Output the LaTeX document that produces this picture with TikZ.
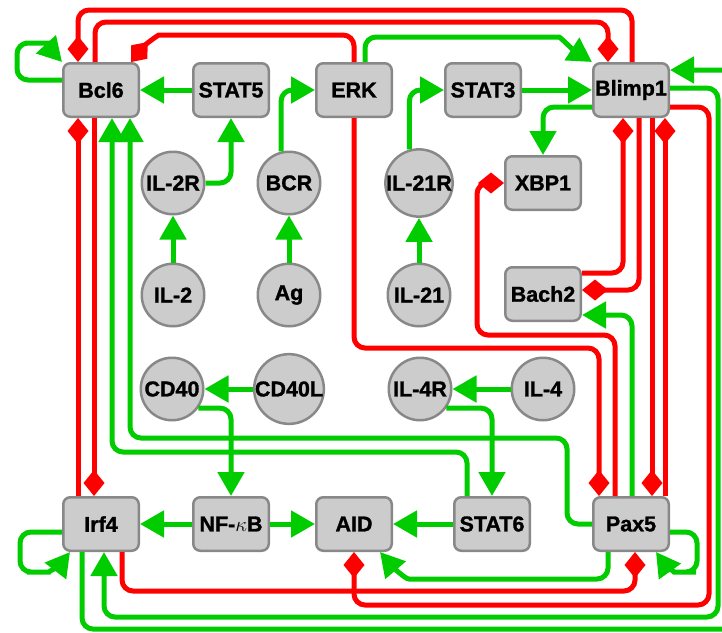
\documentclass[tikz,border=0pt]{standalone}
\usepackage{fontspec}
\setmainfont{Liberation Sans}[BoldFeatures={FakeBold=1.3}]
\usetikzlibrary{arrows.meta}
\definecolor{actgreen}{RGB}{0,204,0}
\definecolor{inhred}{RGB}{255,0,0}
\definecolor{nodefill}{RGB}{204,204,204}
\definecolor{nodeline}{RGB}{136,136,136}
\begin{document}
\begin{tikzpicture}[x=1pt,y=-1pt,
  label/.style={font=\fontsize{21.5}{21.5}\selectfont\bfseries},
  gene/.style={label, draw=nodeline, line width=2.5pt, fill=nodefill,
    rounded corners=7pt, minimum width=75.5pt, minimum height=53.5pt, inner sep=0pt},
  signal/.style={label, circle, draw=nodeline, line width=2.5pt, fill=nodefill,
    minimum size=62.5pt, inner sep=0pt},
  act/.style={draw=actgreen, line width=5pt, rounded corners=11pt,
    -{Triangle[length=24pt,width=26pt]}},
  inh/.style={draw=inhred, line width=5pt, rounded corners=11pt,
    -{Diamond[length=26pt,width=21pt]}},
]
\useasboundingbox (0,0) rectangle (722,632);
\clip (0,0) rectangle (722,632);

% genes and proteins
\node[gene] (Bcl6)   at (101,90)  {Bcl6};
\node[gene] (STAT5)  at (231,90)  {STAT5};
\node[gene] (ERK)    at (354,90)  {ERK};
\node[gene] (STAT3)  at (483,90)  {STAT3};
\node[gene] (Blimp1) at (631,90)  {Blimp1};
\node[gene] (XBP1)   at (543,183) {XBP1};
\node[gene] (Bach2)  at (543,294) {Bach2};
\node[gene] (Irf4)   at (101,524) {Irf4};
\node[gene] (NFkB)   at (231,524) {NF-$\kappa$B};
\node[gene] (AID)    at (354,524) {AID};
\node[gene] (STAT6)  at (492,524) {STAT6};
\node[gene] (Pax5)   at (631,524) {Pax5};

% external signals and receptors
\node[signal] (IL2R)  at (173,183) {IL-2R};
\node[signal] (BCR)   at (289,183) {BCR};
\node[signal] (IL21R) at (419,183) {IL-21R};
\node[signal] (IL2)   at (173,295) {IL-2};
\node[signal] (Ag)    at (289,295) {Ag};
\node[signal] (IL21)  at (419,295) {IL-21};
\node[signal] (CD40)  at (172,389) {CD40};
\node[signal] (CD40L) at (289,389) {CD40L};
\node[signal] (IL4R)  at (420,389) {IL-4R};
\node[signal] (IL4)   at (543,389) {IL-4};

% activations
\draw[act] ([yshift=10pt]Bcl6.west) -- (17,80) -- (17,43) -- (36,43)
  .. controls (44,43) and (52,51) .. (Bcl6.north west);
\draw[act] (STAT5.west) -- (Bcl6.east);
\draw[act] (IL2R.east) -| (STAT5.south);
\draw[act] (IL2.north) -- (IL2R.south);
\draw[act] (BCR.104) |- (ERK.west);
\draw[act] (Ag.north) -- (BCR.south);
\draw[act] (IL21.north) -- (IL21R.south);
\draw[act] (IL21R.106) |- (STAT3.west);
\draw[act] (STAT3.east) -- (Blimp1.west);
\draw[act] ([xshift=11pt]ERK.north) -- (365,37) -- (548,37)
  .. controls (560,37) and (572,49) .. (Blimp1.north west);
\draw[act] ([yshift=-17pt]Blimp1.west) -| (XBP1.north);
\draw[act] (CD40L.west) -- (CD40.east);
\draw[act] (CD40.-36) -| (NFkB.north);
\draw[act] (IL4.west) -- (IL4R.east);
\draw[act] (IL4R.-36) -| (STAT6.north);
\draw[act] (NFkB.west) -- (Irf4.east);
\draw[act] (NFkB.east) -- (AID.west);
\draw[act] (STAT6.west) -- (AID.east);
\draw[act] ([xshift=-25pt]STAT6.north) -- (467,452) -- (112,452) -- ([xshift=11pt]Bcl6.south);
\draw[act] (Pax5.west) -- (567,524) -- (567,438) -- (130,438) -- ([xshift=29pt]Bcl6.south);
\draw[act] ([xshift=1pt]Pax5.north) |- ([yshift=-21pt]Bach2.east);
\draw[act] ([xshift=-23pt]Pax5.south) -- (608,579) -- (420,579)
  .. controls (405,579) and (392,566) .. ([xshift=-13pt]AID.south east);
\draw[act] ([yshift=-8pt]Pax5.east) -- (697,532) -- (697,572) -- (685,572)
  .. controls (675,572) and (666,566) .. ([xshift=-14pt]Pax5.south east);
\draw[act] ([yshift=-8pt]Irf4.west) -- (20,532) -- (20,572) -- (38,572)
  .. controls (48,572) and (60,565) .. ([xshift=8pt]Irf4.south west);
\draw[act] ([yshift=2pt]Blimp1.east) -- (718,88) -- (718,617) -- (104,617) -- ([xshift=3pt]Irf4.south);
\draw[act] ([xshift=-19pt]Irf4.south) -- (82,629) -- (735,629) -- (735,70) -- ([yshift=20pt]Blimp1.east);

% inhibitions
\draw[inh] ([xshift=1pt]Blimp1.north) -- (632,10) -- (78,10) -- ([xshift=-23pt]Bcl6.north);
\draw[inh] ([xshift=-6pt]Bcl6.north) -- (95,22) -- (608,22) -- ([xshift=-23pt]Blimp1.north);
\draw[inh] (ERK.north) -- (354,35) -- (170,35)
  .. controls (158,35) and (146,44) .. ([xshift=-9pt]Bcl6.north east);
\draw[inh] ([xshift=-23pt]Irf4.north) -- ([xshift=-23pt]Bcl6.south);
\draw[inh] ([xshift=-7pt]Bcl6.south) -- ([xshift=-7pt]Irf4.north);
\draw[inh] (ERK.south) -- (354,348) -- (599,348) -- ([xshift=-32pt]Pax5.north);
\draw[inh] ([xshift=-16pt]Pax5.north) -- (615,335) -- (477,335) -- (477,183) -- (XBP1.west);
\draw[inh] ([yshift=21pt]Bach2.east) -- (623,273) -- ([xshift=-8pt]Blimp1.south);
\draw[inh] ([xshift=8pt]Blimp1.south) -- (639,290) -- ([yshift=4pt]Bach2.east);
\draw[inh] ([xshift=21pt]Blimp1.south) -- ([xshift=21pt]Pax5.north);
\draw[inh] ([xshift=34pt]Pax5.north) -- ([xshift=34pt]Blimp1.south);
\draw[inh] ([yshift=-17pt]Blimp1.east) -- (709,107) -- (709,605) -- (354,605) -- (AID.south);
\draw[inh] ([xshift=21pt]Irf4.south) -- (122,591) -- (635,591) -- ([xshift=4pt]Pax5.south);
\end{tikzpicture}
\end{document}
